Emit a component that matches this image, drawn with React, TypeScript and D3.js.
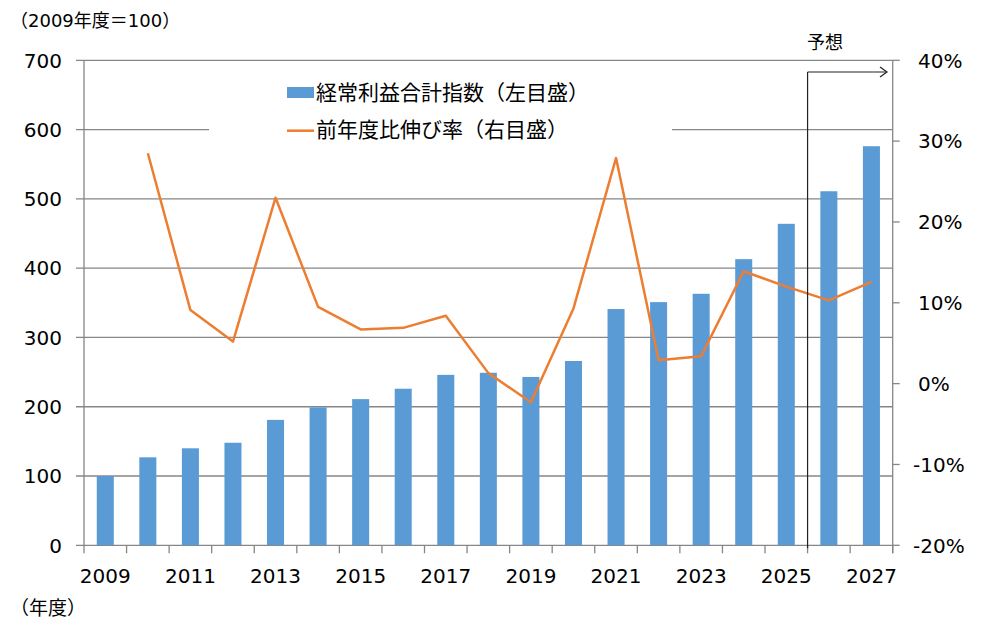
import * as d3 from "d3";

// 年度
const years = [
  "2009", "2010", "2011", "2012", "2013", "2014", "2015", "2016", "2017", "2018",
  "2019", "2020", "2021", "2022", "2023", "2024", "2025", "2026", "2027",
];
// 経常利益合計指数（2009年度＝100）
const indexValues = [
  100, 127, 140, 148, 181, 199, 211, 226, 246, 249,
  243, 266, 341, 351, 363, 413, 464, 511, 576,
];
// 前年度比伸び率（%）, 2009 has none
const growthRates: (number | null)[] = [
  null, 28.5, 9.1, 5.2, 23.0, 9.5, 6.7, 6.9, 8.4, 1.3,
  -2.3, 9.3, 27.9, 2.9, 3.4, 13.9, 12.0, 10.3, 12.6,
];
const leftTicks = [0, 100, 200, 300, 400, 500, 600, 700];
const rightTicks = [-20, -10, 0, 10, 20, 30, 40];
const forecastFrom = "2026";

const W = 983;
const H = 639;
const left = 84;
const right = 892.7;
const top = 60.3;
const bottom = 545.3;

const blue = "#5B9BD5";
const orange = "#ED7D31";
const grid = "#868686";
const numFont = "'DejaVu Sans', Verdana, sans-serif";
const jpFont = "'Noto Sans CJK JP', sans-serif";
const mixFont = "'DejaVu Sans', 'Noto Sans CJK JP', sans-serif";

export default function App() {
  const x = d3.scaleBand(years, [left, right]).paddingInner(0.6).paddingOuter(0.3);
  const step = x.step();
  const yL = d3.scaleLinear([0, 700], [bottom, top]);
  const yR = d3.scaleLinear([-20, 40], [bottom, top]);
  const cx = (d: string) => (x(d) ?? 0) + x.bandwidth() / 2;

  const line = d3
    .line<[string, number | null]>()
    .defined((d) => d[1] != null)
    .x((d) => cx(d[0]))
    .y((d) => yR(d[1] as number));
  const pts = years.map((y, i) => [y, growthRates[i]] as [string, number | null]);

  const boundaries = d3.range(years.length + 1).map((i) => left + i * step);
  const fx = left + years.indexOf(forecastFrom) * step;
  const ay = 72;
  const ax = 887;

  return (
    <svg width={W} height={H} style={{ position: "absolute", left: 0, top: 0, background: "#fff" }}>
      {/* gridlines + ticks */}
      <g stroke={grid} strokeWidth={1.3}>
        {leftTicks.map((t) => (
          <line key={t} x1={left - 8} x2={right} y1={yL(t)} y2={yL(t)} />
        ))}
        <line x1={left} x2={left} y1={top} y2={bottom} />
        <line x1={right} x2={right} y1={top} y2={bottom + 8} />
        {boundaries.map((b, i) => (
          <line key={i} x1={b} x2={b} y1={bottom} y2={bottom + 8} />
        ))}
        {rightTicks.map((t) => (
          <line key={t} x1={right} x2={right + 7} y1={yR(t)} y2={yR(t)} />
        ))}
      </g>

      {/* bars */}
      <g fill={blue}>
        {years.map((y, i) => (
          <rect key={y} x={x(y)} y={yL(indexValues[i])} width={x.bandwidth()} height={bottom - yL(indexValues[i])} />
        ))}
      </g>

      {/* legend */}
      <rect x={209} y={72} width={463} height={86} fill="#fff" />
      <rect x={287} y={87} width={27} height={11} fill={blue} />
      <text x={316} y={100} fontFamily={jpFont} fontSize={21} fill="#000">経常利益合計指数（左目盛）</text>
      <line x1={287} x2={314} y1={130.7} y2={130.7} stroke={orange} strokeWidth={2.5} />
      <text x={316} y={137} fontFamily={jpFont} fontSize={21} fill="#000">前年度比伸び率（右目盛）</text>

      {/* growth line */}
      <path d={line(pts) ?? ""} fill="none" stroke={orange} strokeWidth={2.5} strokeLinejoin="round" />

      {/* forecast marker */}
      <g stroke="#222" strokeWidth={1.2} fill="none">
        <line x1={fx} x2={fx} y1={ay} y2={bottom + 3} />
        <line x1={fx} x2={ax} y1={ay} y2={ay} />
        <path d={`M${ax - 7},${ay - 5}L${ax},${ay}L${ax - 7},${ay + 5}`} />
      </g>
      <text x={825} y={49} textAnchor="middle" fontFamily={jpFont} fontSize={18} fill="#000">予想</text>

      {/* left axis labels */}
      <g fontFamily={numFont} fontSize={20} fill="#000" textAnchor="end">
        {leftTicks.map((t) => (
          <text key={t} x={62} y={yL(t)} dy="0.36em">{t}</text>
        ))}
      </g>
      {/* right axis labels */}
      <g fontFamily={numFont} fontSize={20} fill="#000" textAnchor="start">
        {rightTicks.map((t) => (
          <text key={t} x={t < 0 ? 913 : 918} y={yR(t)} dy="0.36em">{t}%</text>
        ))}
      </g>
      {/* x labels */}
      <g fontFamily={numFont} fontSize={20} fill="#000" textAnchor="middle">
        {years.filter((_, i) => i % 2 === 0).map((y) => (
          <text key={y} x={cx(y)} y={583}>{y}</text>
        ))}
      </g>

      <text x={10} y={27} fontFamily={mixFont} fontSize={18} fill="#000">（2009年度＝100）</text>
      <text x={10} y={615} fontFamily={jpFont} fontSize={19} fill="#000">（年度）</text>
    </svg>
  );
}
